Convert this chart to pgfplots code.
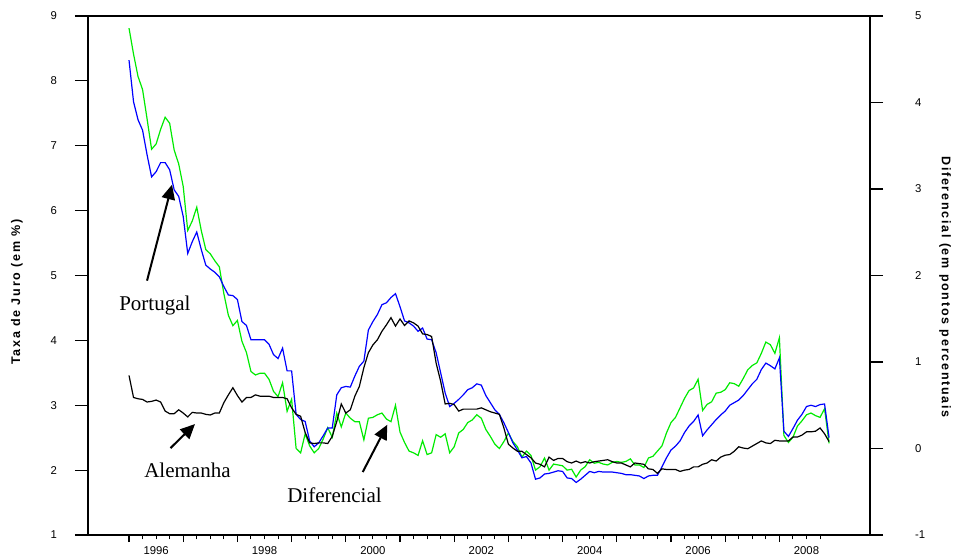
\documentclass[border=0pt]{standalone}
\usepackage{fontspec}
\setmainfont{Liberation Sans}
\newfontfamily\annfont{Liberation Serif}
\usepackage{pgfplots}
\pgfplotsset{compat=1.18}
\usepackage{pgfplotstable}
\usetikzlibrary{arrows.meta}

\definecolor{ptblue}{RGB}{0,0,255}
\definecolor{difgreen}{RGB}{0,235,0}

% Monthly yields, Jan 1996 (m=0) to Dec 2008 (m=155)
% pt = Portugal, de = Alemanha, dif = Portugal - Alemanha (p.p.)
\pgfplotstableread{
m pt de dif
0 8.32 3.46 4.86
1 7.68 3.12 4.56
2 7.40 3.10 4.30
3 7.24 3.09 4.15
4 6.86 3.05 3.81
5 6.52 3.06 3.46
6 6.60 3.08 3.52
7 6.74 3.05 3.69
8 6.74 2.91 3.83
9 6.63 2.87 3.76
10 6.32 2.87 3.45
11 6.22 2.93 3.29
12 5.91 2.88 3.03
13 5.34 2.82 2.52
14 5.52 2.89 2.63
15 5.67 2.88 2.79
16 5.40 2.88 2.52
17 5.16 2.86 2.30
18 5.10 2.85 2.25
19 5.05 2.88 2.17
20 4.98 2.88 2.10
21 4.83 3.04 1.79
22 4.70 3.16 1.54
23 4.69 3.27 1.42
24 4.63 3.15 1.48
25 4.29 3.05 1.24
26 4.23 3.12 1.11
27 4.01 3.12 0.89
28 4.01 3.16 0.85
29 4.01 3.14 0.87
30 4.01 3.14 0.87
31 3.94 3.14 0.80
32 3.78 3.12 0.66
33 3.72 3.12 0.60
34 3.88 3.12 0.76
35 3.53 3.10 0.43
36 3.53 2.96 0.57
37 2.86 2.86 0.00
38 2.78 2.83 -0.05
39 2.75 2.58 0.17
40 2.45 2.42 0.03
41 2.36 2.41 -0.05
42 2.42 2.42 0.00
43 2.53 2.42 0.11
44 2.65 2.41 0.24
45 2.65 2.52 0.13
46 3.16 2.75 0.41
47 3.27 3.02 0.25
48 3.29 2.88 0.41
49 3.28 2.93 0.35
50 3.45 3.14 0.31
51 3.60 3.29 0.31
52 3.68 3.58 0.10
53 4.16 3.81 0.35
54 4.29 3.93 0.36
55 4.40 4.01 0.39
56 4.55 4.14 0.41
57 4.58 4.24 0.34
58 4.66 4.35 0.31
59 4.72 4.22 0.50
60 4.52 4.33 0.19
61 4.30 4.23 0.07
62 4.27 4.30 -0.03
63 4.22 4.27 -0.05
64 4.14 4.22 -0.08
65 4.19 4.10 0.09
66 4.02 4.09 -0.07
67 4.01 4.06 -0.05
68 3.81 3.65 0.16
69 3.50 3.37 0.13
70 3.19 3.02 0.17
71 2.98 3.03 -0.05
72 3.03 3.01 0.02
73 3.09 2.91 0.18
74 3.16 2.94 0.22
75 3.24 2.94 0.30
76 3.27 2.94 0.33
77 3.33 2.94 0.39
78 3.31 2.96 0.35
79 3.15 2.93 0.22
80 3.04 2.90 0.14
81 2.93 2.88 0.05
82 2.86 2.86 0.00
83 2.73 2.65 0.08
84 2.58 2.40 0.18
85 2.42 2.34 0.08
86 2.31 2.29 0.02
87 2.19 2.29 -0.10
88 2.21 2.24 -0.03
89 2.11 2.19 -0.08
90 1.86 2.11 -0.25
91 1.88 2.09 -0.21
92 1.94 2.05 -0.11
93 1.95 2.20 -0.25
94 1.97 2.15 -0.18
95 1.99 2.18 -0.19
96 1.98 2.18 -0.20
97 1.88 2.13 -0.25
98 1.87 2.11 -0.24
99 1.81 2.14 -0.33
100 1.86 2.11 -0.25
101 1.92 2.13 -0.21
102 1.98 2.11 -0.13
103 1.96 2.13 -0.17
104 1.98 2.14 -0.16
105 1.97 2.15 -0.18
106 1.97 2.16 -0.19
107 1.97 2.13 -0.16
108 1.96 2.11 -0.15
109 1.95 2.11 -0.16
110 1.93 2.08 -0.15
111 1.93 2.05 -0.12
112 1.92 2.11 -0.19
113 1.91 2.10 -0.19
114 1.87 2.09 -0.22
115 1.91 2.02 -0.11
116 1.92 2.01 -0.09
117 1.92 1.95 -0.03
118 2.05 2.02 0.03
119 2.19 2.01 0.18
120 2.31 2.01 0.30
121 2.37 2.01 0.36
122 2.45 1.98 0.47
123 2.58 2.00 0.58
124 2.68 2.01 0.67
125 2.75 2.05 0.70
126 2.85 2.05 0.80
127 2.53 2.09 0.44
128 2.62 2.11 0.51
129 2.70 2.16 0.54
130 2.78 2.14 0.64
131 2.85 2.20 0.65
132 2.91 2.23 0.68
133 3.00 2.24 0.76
134 3.04 2.29 0.75
135 3.08 2.36 0.72
136 3.15 2.34 0.81
137 3.24 2.33 0.91
138 3.33 2.37 0.96
139 3.40 2.41 0.99
140 3.55 2.45 1.10
141 3.65 2.42 1.23
142 3.61 2.41 1.20
143 3.56 2.46 1.10
144 3.73 2.45 1.28
145 2.60 2.45 0.15
146 2.52 2.45 0.07
147 2.64 2.51 0.13
148 2.77 2.51 0.26
149 2.86 2.54 0.32
150 2.98 2.59 0.39
151 3.00 2.59 0.41
152 2.98 2.60 0.38
153 3.01 2.65 0.36
154 3.02 2.56 0.46
155 2.50 2.44 0.06
}\rates

\pgfplotsset{
  frame/.style={
    at={(0,0)}, anchor=south west, scale only axis,
    width=586.5pt, height=389.25pt,
    xmin=-9.08, xmax=164.06,
    tick align=outside,
    axis line style={line width=0.8pt},
    tick style={draw=black, line width=0.8pt},
    tick label style={font=\fontsize{8.5}{10}\selectfont},
    /pgf/number format/assume math mode=true,
  },
}

\begin{document}
\begin{tikzpicture}
\useasboundingbox (-66pt,-16.5pt) rectangle (651.75pt,401.25pt);

% spread, right scale
\begin{axis}[frame,
  ymin=-1, ymax=5, ytick={-1,0,...,5},
  axis x line=none, axis y line*=right,
  major tick length=9.75pt,
  yticklabel shift=20.5pt,
]
\addplot[difgreen, line width=0.9pt] table[x=m, y=dif] {\rates};
\end{axis}

% yields, left scale
\begin{axis}[frame,
  ymin=1, ymax=9, ytick={1,...,9},
  axis x line=none, axis y line*=left,
  major tick length=9.75pt,
  yticklabel shift=10pt,
]
\addplot[ptblue, line width=0.9pt] table[x=m, y=pt] {\rates};
\addplot[black, line width=0.9pt] table[x=m, y=de] {\rates};

\draw[line width=1.5pt, -{Triangle[length=11pt, width=10pt]}]
  (axis cs:3.99,4.92) -- (axis cs:9.52,6.40);
\draw[line width=1.5pt, -{Triangle[length=11pt, width=10pt]}]
  (axis cs:9.19,2.34) -- (axis cs:14.61,2.71);
\draw[line width=1.5pt, -{Triangle[length=11pt, width=10pt]}]
  (axis cs:51.74,1.97) -- (axis cs:57.19,2.70);

\node[anchor=base west, inner sep=0pt, font=\annfont\fontsize{15.75}{18}\selectfont]
  at (axis cs:-2.21,4.46) {Portugal};
\node[anchor=base west, inner sep=0pt, font=\annfont\fontsize{15.75}{18}\selectfont]
  at (axis cs:3.32,1.88) {Alemanha};
\node[anchor=base west, inner sep=0pt, font=\annfont\fontsize{15.75}{18}\selectfont]
  at (axis cs:34.98,1.50) {Diferencial};
\end{axis}

% left scale ticks: a narrow strip whose right edge is the left edge of the frame
\begin{axis}[
  at={(0,0)}, anchor=south east, scale only axis,
  width=20pt, height=389.25pt,
  xmin=0, xmax=1, ymin=1, ymax=9,
  axis x line=none, axis y line*=right,
  ytick={1,...,9}, yticklabels={},
  tick align=inside, major tick length=9.75pt,
  axis line style={line width=0.8pt},
  tick style={draw=black, line width=0.8pt},
]
\end{axis}

% top edge of the frame
\begin{axis}[frame,
  ymin=1, ymax=9,
  axis y line=none, axis x line*=top, xtick=\empty,
]
\end{axis}

% time axis: year and quarter ticks
\begin{axis}[frame,
  ymin=1, ymax=9,
  axis y line=none, axis x line*=bottom,
  xtick={0,12,...,144}, xticklabels={},
  minor xtick={0,3,...,153},
  major tick length=5.25pt, minor tick length=3.2pt,
]
\end{axis}

% time axis: year labels at mid-year
\begin{axis}[frame,
  ymin=1, ymax=9,
  axis y line=none, axis x line*=bottom,
  x axis line style={draw=none},
  xtick={6,30,54,78,102,126,150},
  xticklabels={1996,1998,2000,2002,2004,2006,2008},
  major tick length=0pt,
  xticklabel shift=5.5pt,
]
\end{axis}

\begin{scope}[x=0.75pt, y=-0.75pt, shift={(-66pt,401.25pt)}]
  \node[rotate=90, font=\bfseries\fontsize{9.4}{11}\selectfont\addfontfeature{LetterSpace=14}]
    at (17,292) {Taxa de Juro (em \%)};
  \node[rotate=-90, font=\bfseries\fontsize{9.4}{11}\selectfont\addfontfeature{LetterSpace=14}]
    at (945,287) {Diferencial (em pontos percentuais};
\end{scope}
\end{tikzpicture}
\end{document}
